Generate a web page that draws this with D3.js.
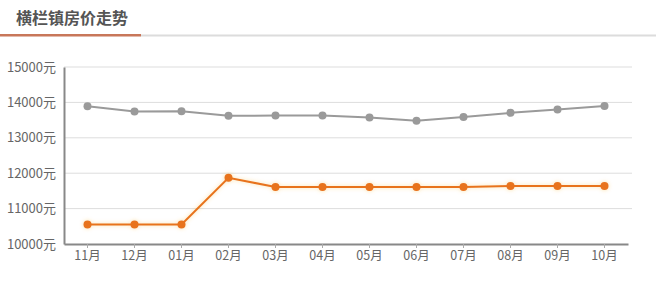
<!DOCTYPE html>
<html><head><meta charset="utf-8">
<script src="https://cdn.jsdelivr.net/npm/d3@7/dist/d3.min.js"></script>
<style>
body{margin:0;background:#fff;}
svg{display:block;font-family:"Noto Sans CJK SC","Noto Sans",sans-serif;}
</style></head><body>
<svg id="c" width="656" height="285"></svg>
<script>
const title = "横栏镇房价走势";
const months = ["11月","12月","01月","02月","03月","04月","05月","06月","07月","08月","09月","10月"];
const cityPrices = [13890,13740,13750,13620,13630,13630,13575,13480,13590,13705,13800,13895];
const townPrices = [10550,10550,10550,11870,11610,11610,11610,11610,11610,11640,11640,11640];
const yTicks = [10000,11000,12000,13000,14000,15000];

const svg = d3.select("#c");
// title
svg.append("text").attr("x",16).attr("y",24).attr("font-size",16).attr("font-weight","bold")
  .attr("fill","#555").text(title);
svg.append("rect").attr("x",141).attr("y",34.5).attr("width",515).attr("height",2).attr("fill","#dcdcdc");
svg.append("rect").attr("x",0).attr("y",34).attr("width",141).attr("height",2.5).attr("fill","#c8775a");

const x = d3.scaleBand().domain(months).range([64,628]).padding(0);
const y = d3.scaleLinear().domain([10000,15000]).range([244,67]);

// gridlines
svg.append("g").selectAll("line").data(yTicks.slice(1)).join("line")
  .attr("x1",64).attr("x2",632).attr("y1",d=>y(d)).attr("y2",d=>y(d))
  .attr("stroke","#ddd").attr("stroke-width",1);

// y axis
const ya = svg.append("g").attr("transform","translate(64,0)")
  .call(d3.axisLeft(y).tickValues(yTicks).tickSize(0).tickPadding(8).tickFormat(d=>d+"元"));
ya.select(".domain").attr("stroke","#888").attr("stroke-width",2);
ya.selectAll("text").attr("font-size",13).attr("fill","#666").attr("font-family","'Noto Sans CJK SC',sans-serif");

// x axis
const xa = svg.append("g").attr("transform","translate(0,244)")
  .call(d3.axisBottom(x).tickSize(4).tickPadding(3).tickSizeOuter(0));
xa.select(".domain").attr("stroke","#888").attr("stroke-width",2);
xa.selectAll(".tick line").attr("stroke","#aaa");
xa.selectAll("text").attr("font-size",12.5).attr("fill","#666").attr("font-family","'Noto Sans CJK SC',sans-serif");

const defs = svg.append("defs");
const f = defs.append("filter").attr("id","glow").attr("x","-20%").attr("y","-20%").attr("width","140%").attr("height","140%");
f.append("feGaussianBlur").attr("in","SourceAlpha").attr("stdDeviation",2).attr("result","b");
f.append("feFlood").attr("flood-color","#f5a623").attr("flood-opacity",0.35);
f.append("feComposite").attr("in2","b").attr("operator","in").attr("result","s");
const m = f.append("feMerge"); m.append("feMergeNode").attr("in","s"); m.append("feMergeNode").attr("in","SourceGraphic");

const cx = d=>x(d)+x.bandwidth()/2;
function series(vals,color,filter){
  const g = svg.append("g");
  if(filter) g.attr("filter","url(#glow)");
  g.append("path").datum(vals).attr("fill","none").attr("stroke",color).attr("stroke-width",2)
    .attr("d",d3.line().x((d,i)=>cx(months[i])).y(d=>y(d)));
  g.selectAll("circle").data(vals).join("circle")
    .attr("cx",(d,i)=>cx(months[i])).attr("cy",d=>y(d)).attr("r",4).attr("fill",color);
}
series(cityPrices,"#9a9a9a",false);
series(townPrices,"#e8731d",true);
</script>
</body></html>
